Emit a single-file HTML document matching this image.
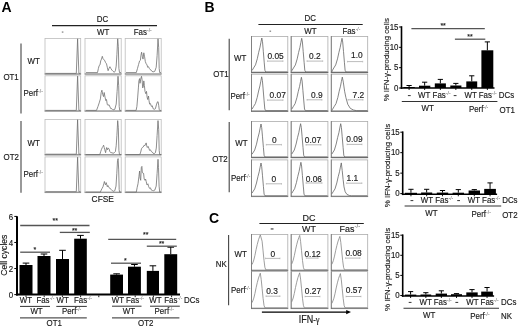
<!DOCTYPE html>
<html><head><meta charset="utf-8"><style>
html,body{margin:0;padding:0;background:#fff;}
svg{display:block;font-family:"Liberation Sans", sans-serif;will-change:transform;}
</style></head><body>
<svg width="520" height="329" viewBox="0 0 520 329">
<rect width="520" height="329" fill="#fff"/>
<text x="1.6" y="12.3" font-size="14" text-anchor="start" fill="#000" stroke="#000" stroke-width="0" font-weight="bold" >A</text>
<text x="204.5" y="11.9" font-size="14" text-anchor="start" fill="#000" stroke="#000" stroke-width="0" font-weight="bold" >B</text>
<text x="209.0" y="223.0" font-size="14" text-anchor="start" fill="#000" stroke="#000" stroke-width="0" font-weight="bold" >C</text>
<rect x="45.00" y="38.50" width="35.70" height="35.90" fill="#fff" stroke="#bcbcbc" stroke-width="0.8"/>
<line x1="44.60" y1="73.90" x2="81.10" y2="73.90" stroke="#787878" stroke-width="0.9"/>
<rect x="45.00" y="75.80" width="35.70" height="35.60" fill="#fff" stroke="#bcbcbc" stroke-width="0.8"/>
<line x1="44.60" y1="110.90" x2="81.10" y2="110.90" stroke="#787878" stroke-width="0.9"/>
<rect x="45.00" y="119.40" width="35.70" height="35.80" fill="#fff" stroke="#bcbcbc" stroke-width="0.8"/>
<line x1="44.60" y1="154.70" x2="81.10" y2="154.70" stroke="#787878" stroke-width="0.9"/>
<rect x="45.00" y="156.90" width="35.70" height="35.80" fill="#fff" stroke="#bcbcbc" stroke-width="0.8"/>
<line x1="44.60" y1="192.20" x2="81.10" y2="192.20" stroke="#787878" stroke-width="0.9"/>
<rect x="85.00" y="38.50" width="36.20" height="35.90" fill="#fff" stroke="#bcbcbc" stroke-width="0.8"/>
<line x1="84.60" y1="73.90" x2="121.60" y2="73.90" stroke="#787878" stroke-width="0.9"/>
<rect x="85.00" y="75.80" width="36.20" height="35.60" fill="#fff" stroke="#bcbcbc" stroke-width="0.8"/>
<line x1="84.60" y1="110.90" x2="121.60" y2="110.90" stroke="#787878" stroke-width="0.9"/>
<rect x="85.00" y="119.40" width="36.20" height="35.80" fill="#fff" stroke="#bcbcbc" stroke-width="0.8"/>
<line x1="84.60" y1="154.70" x2="121.60" y2="154.70" stroke="#787878" stroke-width="0.9"/>
<rect x="85.00" y="156.90" width="36.20" height="35.80" fill="#fff" stroke="#bcbcbc" stroke-width="0.8"/>
<line x1="84.60" y1="192.20" x2="121.60" y2="192.20" stroke="#787878" stroke-width="0.9"/>
<rect x="125.20" y="38.50" width="36.00" height="35.90" fill="#fff" stroke="#bcbcbc" stroke-width="0.8"/>
<line x1="124.80" y1="73.90" x2="161.60" y2="73.90" stroke="#787878" stroke-width="0.9"/>
<rect x="125.20" y="75.80" width="36.00" height="35.60" fill="#fff" stroke="#bcbcbc" stroke-width="0.8"/>
<line x1="124.80" y1="110.90" x2="161.60" y2="110.90" stroke="#787878" stroke-width="0.9"/>
<rect x="125.20" y="119.40" width="36.00" height="35.80" fill="#fff" stroke="#bcbcbc" stroke-width="0.8"/>
<line x1="124.80" y1="154.70" x2="161.60" y2="154.70" stroke="#787878" stroke-width="0.9"/>
<rect x="125.20" y="156.90" width="36.00" height="35.80" fill="#fff" stroke="#bcbcbc" stroke-width="0.8"/>
<line x1="124.80" y1="192.20" x2="161.60" y2="192.20" stroke="#787878" stroke-width="0.9"/>
<polyline points="45.50,73.40 76.30,73.40 77.60,38.80 78.90,73.40 80.30,73.40" fill="none" stroke="#707070" stroke-width="0.8" stroke-linejoin="round"/>
<polyline points="45.50,110.40 76.30,110.40 77.60,76.10 78.90,110.40 80.30,110.40" fill="none" stroke="#707070" stroke-width="0.8" stroke-linejoin="round"/>
<polyline points="45.50,154.20 76.30,154.20 77.60,119.70 78.90,154.20 80.30,154.20" fill="none" stroke="#707070" stroke-width="0.8" stroke-linejoin="round"/>
<polyline points="45.50,191.70 76.30,191.70 77.60,157.20 78.90,191.70 80.30,191.70" fill="none" stroke="#707070" stroke-width="0.8" stroke-linejoin="round"/>
<polyline points="86.00,72.60 97.50,72.60 98.40,68.40 99.20,65.50 100.00,64.90 100.70,60.90 101.50,59.10 102.30,56.30 103.00,58.60 103.80,59.70 104.60,60.30 105.60,62.60 106.50,63.80 107.30,67.30 108.10,70.70 109.00,68.40 109.90,66.70 110.80,68.40 111.90,70.10 113.10,71.30 114.30,72.30 115.40,70.70 116.20,66.10 116.90,54.50 117.70,38.80 118.30,46.40 118.90,68.40 119.50,72.60 121.00,72.60" fill="none" stroke="#707070" stroke-width="0.8" stroke-linejoin="round"/>
<polyline points="126.00,72.60 136.30,72.60 137.50,68.40 138.60,64.40 139.60,60.90 140.40,60.30 140.90,55.70 141.60,52.20 142.30,56.30 143.00,59.10 143.80,52.80 144.60,56.80 145.30,61.50 146.20,63.80 147.00,64.90 147.70,67.30 148.50,66.70 149.30,68.40 150.20,69.60 151.10,70.10 151.90,71.30 153.10,71.90 154.80,71.30 156.20,67.30 157.10,55.70 158.00,38.80 158.70,47.60 159.20,68.40 159.70,72.60 161.00,72.60" fill="none" stroke="#707070" stroke-width="0.8" stroke-linejoin="round"/>
<polyline points="86.00,110.40 96.50,110.40 98.00,106.40 99.20,102.90 100.40,98.90 101.20,92.50 101.90,90.20 102.70,94.30 103.50,96.60 104.20,92.50 105.00,97.10 105.80,100.60 106.50,99.50 107.30,104.70 108.10,105.30 109.00,104.70 110.00,107.00 110.80,108.70 111.90,108.70 113.10,109.90 114.80,109.30 116.20,104.10 117.10,91.40 118.00,76.30 118.70,85.60 119.20,106.40 119.70,110.40 121.00,110.40" fill="none" stroke="#707070" stroke-width="0.8" stroke-linejoin="round"/>
<polyline points="126.00,110.40 136.10,110.40 136.90,106.40 137.70,97.10 138.40,87.90 138.90,80.90 139.60,78.60 140.00,83.30 140.70,79.20 141.50,76.30 142.10,79.80 142.70,87.90 143.30,86.70 143.80,80.90 144.40,85.60 145.00,91.40 145.80,93.70 146.50,91.40 147.10,97.10 147.70,99.50 148.50,96.00 149.00,100.60 149.60,104.10 150.40,103.50 151.40,106.40 152.30,105.80 153.10,108.70 154.30,109.30 155.40,108.70 156.60,104.10 157.50,101.80 158.10,101.80 158.70,105.30 159.20,109.30 159.70,110.40 161.00,110.40" fill="none" stroke="#707070" stroke-width="0.8" stroke-linejoin="round"/>
<polyline points="86.00,154.60 99.80,154.60 100.70,151.60 101.50,149.30 102.30,147.50 103.00,146.40 103.60,145.20 104.20,147.50 104.80,149.80 105.60,152.70 106.20,149.30 106.70,147.50 107.30,149.80 108.10,148.10 109.00,148.70 109.90,151.60 110.80,152.70 111.90,152.70 113.10,153.30 114.30,152.70 115.40,151.60 116.20,145.80 116.90,135.40 117.70,120.60 118.30,127.30 118.90,150.40 119.50,154.60 121.00,154.60" fill="none" stroke="#707070" stroke-width="0.8" stroke-linejoin="round"/>
<polyline points="126.00,154.60 139.80,154.60 140.70,152.10 141.50,148.70 142.30,147.50 143.30,146.90 144.20,145.20 144.80,145.80 145.60,144.00 146.20,142.90 146.70,145.80 147.30,147.50 148.10,146.40 148.80,148.10 149.60,150.40 150.40,149.80 151.40,151.60 152.30,152.10 153.10,153.30 154.30,153.60 155.40,152.70 156.30,148.10 157.10,135.40 158.00,120.60 158.70,129.60 159.20,150.40 159.70,154.60 161.00,154.60" fill="none" stroke="#707070" stroke-width="0.8" stroke-linejoin="round"/>
<polyline points="86.00,192.10 100.40,192.10 101.20,190.10 102.10,188.40 103.00,186.70 103.80,183.80 104.40,181.50 105.00,183.80 105.60,184.90 106.20,182.60 106.70,184.40 107.30,186.70 107.90,185.50 108.70,187.30 109.60,187.80 110.40,189.00 111.40,189.60 112.30,190.70 113.40,191.30 114.80,190.70 116.00,186.10 116.80,173.40 117.50,160.60 118.10,158.60 118.70,169.90 119.20,189.60 119.70,192.10 121.00,192.10" fill="none" stroke="#707070" stroke-width="0.8" stroke-linejoin="round"/>
<polyline points="126.00,192.10 136.30,192.10 137.20,187.30 138.00,183.80 138.90,176.80 139.60,171.00 140.10,178.00 140.70,180.30 141.30,167.60 141.90,166.40 142.30,172.20 143.00,173.40 143.60,173.40 144.20,179.10 145.00,180.30 145.60,179.10 146.20,181.50 147.00,184.90 147.90,183.80 148.70,186.70 149.60,188.40 150.40,187.80 151.40,190.10 152.50,190.50 153.70,190.70 154.80,190.10 156.20,186.10 157.10,173.40 158.00,159.30 158.50,167.60 159.10,186.10 159.70,192.10 161.00,192.10" fill="none" stroke="#707070" stroke-width="0.8" stroke-linejoin="round"/>
<text transform="translate(96.80,22.10) scale(1,1.1)" font-size="7.9" text-anchor="start" fill="#1a1a1a" stroke="#1a1a1a" stroke-width="0.15" >DC</text>
<line x1="52.00" y1="25.60" x2="157.00" y2="25.60" stroke="#222" stroke-width="1.1"/>
<rect x="61.80" y="31.60" width="1.60" height="0.90" fill="#555" stroke="none" stroke-width="0"/>
<text transform="translate(97.00,34.70) scale(1,1.1)" font-size="7.9" text-anchor="start" fill="#1a1a1a" stroke="#1a1a1a" stroke-width="0.15" >WT</text>
<text transform="translate(133.70,34.70) scale(1,1.1)" font-size="7.9" text-anchor="start" fill="#1a1a1a" stroke="#1a1a1a" stroke-width="0.15" >Fas</text>
<text x="147.0" y="31.6" font-size="5.0" fill="#555">-/-</text>
<line x1="21.00" y1="43.40" x2="21.00" y2="113.60" stroke="#777" stroke-width="1.5"/>
<line x1="21.00" y1="121.00" x2="21.00" y2="192.80" stroke="#777" stroke-width="1.5"/>
<text transform="translate(27.60,63.80) scale(1,1.1)" font-size="7.9" text-anchor="start" fill="#1a1a1a" stroke="#1a1a1a" stroke-width="0.15" >WT</text>
<text transform="translate(23.50,95.80) scale(1,1.1)" font-size="7.9" text-anchor="start" fill="#1a1a1a" stroke="#1a1a1a" stroke-width="0.15" >Perf</text>
<text x="38.1" y="92.7" font-size="5.0" fill="#555">-/-</text>
<text transform="translate(3.40,79.90) scale(1,1.1)" font-size="7.9" text-anchor="start" fill="#1a1a1a" stroke="#1a1a1a" stroke-width="0.15" >OT1</text>
<text transform="translate(27.60,145.50) scale(1,1.1)" font-size="7.9" text-anchor="start" fill="#1a1a1a" stroke="#1a1a1a" stroke-width="0.15" >WT</text>
<text transform="translate(23.50,177.00) scale(1,1.1)" font-size="7.9" text-anchor="start" fill="#1a1a1a" stroke="#1a1a1a" stroke-width="0.15" >Perf</text>
<text x="38.1" y="173.9" font-size="5.0" fill="#555">-/-</text>
<text transform="translate(3.60,159.90) scale(1,1.1)" font-size="7.9" text-anchor="start" fill="#1a1a1a" stroke="#1a1a1a" stroke-width="0.15" >OT2</text>
<text transform="translate(91.60,201.60) scale(1,1.1)" font-size="8.4" text-anchor="start" fill="#1a1a1a" stroke="#1a1a1a" stroke-width="0.15" >CFSE</text>
<line x1="17.00" y1="216.20" x2="17.00" y2="295.60" stroke="#000" stroke-width="2.0"/>
<line x1="16.00" y1="294.60" x2="180.00" y2="294.60" stroke="#000" stroke-width="2.0"/>
<line x1="14.30" y1="216.42" x2="17.00" y2="216.42" stroke="#000" stroke-width="1.0"/>
<text transform="translate(13.10,219.62) scale(1,1.1)" font-size="7.9" text-anchor="end" fill="#1a1a1a" stroke="#1a1a1a" stroke-width="0.15" >6</text>
<line x1="14.30" y1="242.48" x2="17.00" y2="242.48" stroke="#000" stroke-width="1.0"/>
<text transform="translate(13.10,245.68) scale(1,1.1)" font-size="7.9" text-anchor="end" fill="#1a1a1a" stroke="#1a1a1a" stroke-width="0.15" >4</text>
<line x1="14.30" y1="268.54" x2="17.00" y2="268.54" stroke="#000" stroke-width="1.0"/>
<text transform="translate(13.10,271.74) scale(1,1.1)" font-size="7.9" text-anchor="end" fill="#1a1a1a" stroke="#1a1a1a" stroke-width="0.15" >2</text>
<line x1="14.30" y1="294.60" x2="17.00" y2="294.60" stroke="#000" stroke-width="1.0"/>
<text transform="translate(13.10,297.80) scale(1,1.1)" font-size="7.9" text-anchor="end" fill="#1a1a1a" stroke="#1a1a1a" stroke-width="0.15" >0</text>
<line x1="26.00" y1="295.50" x2="26.00" y2="297.20" stroke="#000" stroke-width="0.9"/>
<line x1="44.20" y1="295.50" x2="44.20" y2="297.20" stroke="#000" stroke-width="0.9"/>
<line x1="62.40" y1="295.50" x2="62.40" y2="297.20" stroke="#000" stroke-width="0.9"/>
<line x1="80.60" y1="295.50" x2="80.60" y2="297.20" stroke="#000" stroke-width="0.9"/>
<line x1="98.80" y1="295.50" x2="98.80" y2="297.20" stroke="#000" stroke-width="0.9"/>
<line x1="117.00" y1="295.50" x2="117.00" y2="297.20" stroke="#000" stroke-width="0.9"/>
<line x1="135.20" y1="295.50" x2="135.20" y2="297.20" stroke="#000" stroke-width="0.9"/>
<line x1="153.40" y1="295.50" x2="153.40" y2="297.20" stroke="#000" stroke-width="0.9"/>
<line x1="171.60" y1="295.50" x2="171.60" y2="297.20" stroke="#000" stroke-width="0.9"/>
<line x1="26.00" y1="263.10" x2="26.00" y2="265.00" stroke="#000" stroke-width="1.0"/>
<line x1="22.70" y1="263.10" x2="29.30" y2="263.10" stroke="#000" stroke-width="1.0"/>
<rect x="19.50" y="265.00" width="13.00" height="29.60" fill="#000" stroke="none" stroke-width="0"/>
<line x1="44.00" y1="254.00" x2="44.00" y2="256.00" stroke="#000" stroke-width="1.0"/>
<line x1="40.70" y1="254.00" x2="47.30" y2="254.00" stroke="#000" stroke-width="1.0"/>
<rect x="37.50" y="256.00" width="13.00" height="38.60" fill="#000" stroke="none" stroke-width="0"/>
<line x1="62.50" y1="250.30" x2="62.50" y2="259.00" stroke="#000" stroke-width="1.0"/>
<line x1="59.20" y1="250.30" x2="65.80" y2="250.30" stroke="#000" stroke-width="1.0"/>
<rect x="56.00" y="259.00" width="13.00" height="35.60" fill="#000" stroke="none" stroke-width="0"/>
<line x1="80.50" y1="235.40" x2="80.50" y2="238.70" stroke="#000" stroke-width="1.0"/>
<line x1="77.20" y1="235.40" x2="83.80" y2="235.40" stroke="#000" stroke-width="1.0"/>
<rect x="74.20" y="238.70" width="12.60" height="55.90" fill="#000" stroke="none" stroke-width="0"/>
<line x1="116.60" y1="273.80" x2="116.60" y2="274.60" stroke="#000" stroke-width="1.0"/>
<line x1="113.30" y1="273.80" x2="119.90" y2="273.80" stroke="#000" stroke-width="1.0"/>
<rect x="110.20" y="274.60" width="12.80" height="20.00" fill="#000" stroke="none" stroke-width="0"/>
<line x1="134.45" y1="264.50" x2="134.45" y2="266.70" stroke="#000" stroke-width="1.0"/>
<line x1="131.15" y1="264.50" x2="137.75" y2="264.50" stroke="#000" stroke-width="1.0"/>
<rect x="128.00" y="266.70" width="12.90" height="27.90" fill="#000" stroke="none" stroke-width="0"/>
<line x1="152.90" y1="265.80" x2="152.90" y2="270.90" stroke="#000" stroke-width="1.0"/>
<line x1="149.60" y1="265.80" x2="156.20" y2="265.80" stroke="#000" stroke-width="1.0"/>
<rect x="146.80" y="270.90" width="12.20" height="23.70" fill="#000" stroke="none" stroke-width="0"/>
<line x1="170.75" y1="247.20" x2="170.75" y2="254.20" stroke="#000" stroke-width="1.0"/>
<line x1="167.45" y1="247.20" x2="174.05" y2="247.20" stroke="#000" stroke-width="1.0"/>
<rect x="164.30" y="254.20" width="12.90" height="40.40" fill="#000" stroke="none" stroke-width="0"/>
<line x1="20.20" y1="225.50" x2="89.50" y2="225.50" stroke="#555" stroke-width="1.3"/>
<text transform="translate(55.20,223.20) scale(1,1.1)" font-size="7.0" text-anchor="middle" fill="#1a1a1a" stroke="#1a1a1a" stroke-width="0.15" >**</text>
<line x1="59.80" y1="232.40" x2="89.80" y2="232.40" stroke="#555" stroke-width="1.3"/>
<text transform="translate(74.60,232.50) scale(1,1.1)" font-size="7.0" text-anchor="middle" fill="#1a1a1a" stroke="#1a1a1a" stroke-width="0.15" >**</text>
<line x1="20.20" y1="252.20" x2="50.00" y2="252.20" stroke="#555" stroke-width="1.3"/>
<text transform="translate(34.80,252.20) scale(1,1.1)" font-size="7.0" text-anchor="middle" fill="#1a1a1a" stroke="#1a1a1a" stroke-width="0.15" >*</text>
<line x1="108.20" y1="239.40" x2="176.20" y2="239.40" stroke="#555" stroke-width="1.3"/>
<text transform="translate(145.70,237.10) scale(1,1.1)" font-size="7.0" text-anchor="middle" fill="#1a1a1a" stroke="#1a1a1a" stroke-width="0.15" >**</text>
<line x1="146.80" y1="246.20" x2="176.80" y2="246.20" stroke="#555" stroke-width="1.3"/>
<text transform="translate(161.60,246.30) scale(1,1.1)" font-size="7.0" text-anchor="middle" fill="#1a1a1a" stroke="#1a1a1a" stroke-width="0.15" >**</text>
<line x1="111.00" y1="263.20" x2="141.00" y2="263.20" stroke="#555" stroke-width="1.3"/>
<text transform="translate(125.40,263.00) scale(1,1.1)" font-size="7.0" text-anchor="middle" fill="#1a1a1a" stroke="#1a1a1a" stroke-width="0.15" >*</text>
<text transform="translate(19.80,303.30) scale(1,1.1)" font-size="7.9" text-anchor="start" fill="#1a1a1a" stroke="#1a1a1a" stroke-width="0.15" >WT</text>
<text transform="translate(36.40,303.30) scale(1,1.1)" font-size="7.9" text-anchor="start" fill="#1a1a1a" stroke="#1a1a1a" stroke-width="0.15" >Fas</text>
<text x="49.7" y="300.2" font-size="5.0" fill="#555">-/-</text>
<text transform="translate(56.60,303.30) scale(1,1.1)" font-size="7.9" text-anchor="start" fill="#1a1a1a" stroke="#1a1a1a" stroke-width="0.15" >WT</text>
<text transform="translate(74.00,303.30) scale(1,1.1)" font-size="7.9" text-anchor="start" fill="#1a1a1a" stroke="#1a1a1a" stroke-width="0.15" >Fas</text>
<text x="87.3" y="300.2" font-size="5.0" fill="#555">-/-</text>
<text transform="translate(111.80,303.30) scale(1,1.1)" font-size="7.9" text-anchor="start" fill="#1a1a1a" stroke="#1a1a1a" stroke-width="0.15" >WT</text>
<text transform="translate(126.00,303.30) scale(1,1.1)" font-size="7.9" text-anchor="start" fill="#1a1a1a" stroke="#1a1a1a" stroke-width="0.15" >Fas</text>
<text x="139.3" y="300.2" font-size="5.0" fill="#555">-/-</text>
<text transform="translate(149.30,303.30) scale(1,1.1)" font-size="7.9" text-anchor="start" fill="#1a1a1a" stroke="#1a1a1a" stroke-width="0.15" >WT</text>
<text transform="translate(164.30,303.30) scale(1,1.1)" font-size="7.9" text-anchor="start" fill="#1a1a1a" stroke="#1a1a1a" stroke-width="0.15" >Fas</text>
<text x="177.6" y="300.2" font-size="5.0" fill="#555">-/-</text>
<text transform="translate(184.00,302.90) scale(1,1.1)" font-size="7.9" text-anchor="start" fill="#1a1a1a" stroke="#1a1a1a" stroke-width="0.15" >DCs</text>
<line x1="20.00" y1="306.40" x2="50.00" y2="306.40" stroke="#333" stroke-width="1.0"/>
<line x1="56.30" y1="306.40" x2="86.80" y2="306.40" stroke="#333" stroke-width="1.0"/>
<line x1="112.00" y1="306.20" x2="141.50" y2="306.20" stroke="#333" stroke-width="1.0"/>
<line x1="150.00" y1="306.20" x2="179.80" y2="306.20" stroke="#333" stroke-width="1.0"/>
<text transform="translate(30.40,313.70) scale(1,1.1)" font-size="7.9" text-anchor="start" fill="#1a1a1a" stroke="#1a1a1a" stroke-width="0.15" >WT</text>
<text transform="translate(61.90,313.70) scale(1,1.1)" font-size="7.9" text-anchor="start" fill="#1a1a1a" stroke="#1a1a1a" stroke-width="0.15" >Perf</text>
<text x="76.5" y="310.6" font-size="5.0" fill="#555">-/-</text>
<text transform="translate(122.70,313.70) scale(1,1.1)" font-size="7.9" text-anchor="start" fill="#1a1a1a" stroke="#1a1a1a" stroke-width="0.15" >WT</text>
<text transform="translate(154.60,313.70) scale(1,1.1)" font-size="7.9" text-anchor="start" fill="#1a1a1a" stroke="#1a1a1a" stroke-width="0.15" >Perf</text>
<text x="169.2" y="310.6" font-size="5.0" fill="#555">-/-</text>
<line x1="20.00" y1="317.80" x2="86.80" y2="317.80" stroke="#555" stroke-width="1.3"/>
<line x1="112.00" y1="317.80" x2="179.40" y2="317.80" stroke="#555" stroke-width="1.3"/>
<text transform="translate(46.60,325.90) scale(1,1.1)" font-size="7.9" text-anchor="start" fill="#1a1a1a" stroke="#1a1a1a" stroke-width="0.15" >OT1</text>
<text transform="translate(138.00,325.90) scale(1,1.1)" font-size="7.9" text-anchor="start" fill="#1a1a1a" stroke="#1a1a1a" stroke-width="0.15" >OT2</text>
<text transform="translate(7.2,275.7) rotate(-90)" font-size="8.6" fill="#1a1a1a" stroke="#1a1a1a" stroke-width="0.15">Cell cycles</text>
<rect x="251.50" y="36.40" width="36.30" height="36.50" fill="#fff" stroke="#acacac" stroke-width="0.8"/>
<line x1="251.50" y1="36.00" x2="251.50" y2="72.90" stroke="#7a7a7a" stroke-width="0.9"/>
<line x1="251.10" y1="72.40" x2="288.20" y2="72.40" stroke="#6e6e6e" stroke-width="1.1"/>
<rect x="251.50" y="74.20" width="36.30" height="37.40" fill="#fff" stroke="#acacac" stroke-width="0.8"/>
<line x1="251.50" y1="73.80" x2="251.50" y2="111.60" stroke="#7a7a7a" stroke-width="0.9"/>
<line x1="251.10" y1="111.10" x2="288.20" y2="111.10" stroke="#6e6e6e" stroke-width="1.1"/>
<rect x="251.50" y="121.40" width="36.30" height="36.50" fill="#fff" stroke="#acacac" stroke-width="0.8"/>
<line x1="251.50" y1="121.00" x2="251.50" y2="157.90" stroke="#7a7a7a" stroke-width="0.9"/>
<line x1="251.10" y1="157.40" x2="288.20" y2="157.40" stroke="#6e6e6e" stroke-width="1.1"/>
<rect x="251.50" y="159.90" width="36.30" height="36.80" fill="#fff" stroke="#acacac" stroke-width="0.8"/>
<line x1="251.50" y1="159.50" x2="251.50" y2="196.70" stroke="#7a7a7a" stroke-width="0.9"/>
<line x1="251.10" y1="196.20" x2="288.20" y2="196.20" stroke="#6e6e6e" stroke-width="1.1"/>
<rect x="251.50" y="234.40" width="36.30" height="36.30" fill="#fff" stroke="#acacac" stroke-width="0.8"/>
<line x1="251.50" y1="234.00" x2="251.50" y2="270.70" stroke="#7a7a7a" stroke-width="0.9"/>
<line x1="251.10" y1="270.20" x2="288.20" y2="270.20" stroke="#6e6e6e" stroke-width="1.1"/>
<rect x="251.50" y="271.60" width="36.30" height="37.10" fill="#fff" stroke="#acacac" stroke-width="0.8"/>
<line x1="251.50" y1="271.20" x2="251.50" y2="308.70" stroke="#7a7a7a" stroke-width="0.9"/>
<line x1="251.10" y1="308.20" x2="288.20" y2="308.20" stroke="#6e6e6e" stroke-width="1.1"/>
<rect x="291.20" y="36.40" width="36.70" height="36.50" fill="#fff" stroke="#acacac" stroke-width="0.8"/>
<line x1="291.20" y1="36.00" x2="291.20" y2="72.90" stroke="#7a7a7a" stroke-width="0.9"/>
<line x1="290.80" y1="72.40" x2="328.30" y2="72.40" stroke="#6e6e6e" stroke-width="1.1"/>
<rect x="291.20" y="74.20" width="36.70" height="37.40" fill="#fff" stroke="#acacac" stroke-width="0.8"/>
<line x1="291.20" y1="73.80" x2="291.20" y2="111.60" stroke="#7a7a7a" stroke-width="0.9"/>
<line x1="290.80" y1="111.10" x2="328.30" y2="111.10" stroke="#6e6e6e" stroke-width="1.1"/>
<rect x="291.20" y="121.40" width="36.70" height="36.50" fill="#fff" stroke="#acacac" stroke-width="0.8"/>
<line x1="291.20" y1="121.00" x2="291.20" y2="157.90" stroke="#7a7a7a" stroke-width="0.9"/>
<line x1="290.80" y1="157.40" x2="328.30" y2="157.40" stroke="#6e6e6e" stroke-width="1.1"/>
<rect x="291.20" y="159.90" width="36.70" height="36.80" fill="#fff" stroke="#acacac" stroke-width="0.8"/>
<line x1="291.20" y1="159.50" x2="291.20" y2="196.70" stroke="#7a7a7a" stroke-width="0.9"/>
<line x1="290.80" y1="196.20" x2="328.30" y2="196.20" stroke="#6e6e6e" stroke-width="1.1"/>
<rect x="291.20" y="234.40" width="36.70" height="36.30" fill="#fff" stroke="#acacac" stroke-width="0.8"/>
<line x1="291.20" y1="234.00" x2="291.20" y2="270.70" stroke="#7a7a7a" stroke-width="0.9"/>
<line x1="290.80" y1="270.20" x2="328.30" y2="270.20" stroke="#6e6e6e" stroke-width="1.1"/>
<rect x="291.20" y="271.60" width="36.70" height="37.10" fill="#fff" stroke="#acacac" stroke-width="0.8"/>
<line x1="291.20" y1="271.20" x2="291.20" y2="308.70" stroke="#7a7a7a" stroke-width="0.9"/>
<line x1="290.80" y1="308.20" x2="328.30" y2="308.20" stroke="#6e6e6e" stroke-width="1.1"/>
<rect x="331.30" y="36.40" width="36.40" height="36.50" fill="#fff" stroke="#acacac" stroke-width="0.8"/>
<line x1="331.30" y1="36.00" x2="331.30" y2="72.90" stroke="#7a7a7a" stroke-width="0.9"/>
<line x1="330.90" y1="72.40" x2="368.10" y2="72.40" stroke="#6e6e6e" stroke-width="1.1"/>
<rect x="331.30" y="74.20" width="36.40" height="37.40" fill="#fff" stroke="#acacac" stroke-width="0.8"/>
<line x1="331.30" y1="73.80" x2="331.30" y2="111.60" stroke="#7a7a7a" stroke-width="0.9"/>
<line x1="330.90" y1="111.10" x2="368.10" y2="111.10" stroke="#6e6e6e" stroke-width="1.1"/>
<rect x="331.30" y="121.40" width="36.40" height="36.50" fill="#fff" stroke="#acacac" stroke-width="0.8"/>
<line x1="331.30" y1="121.00" x2="331.30" y2="157.90" stroke="#7a7a7a" stroke-width="0.9"/>
<line x1="330.90" y1="157.40" x2="368.10" y2="157.40" stroke="#6e6e6e" stroke-width="1.1"/>
<rect x="331.30" y="159.90" width="36.40" height="36.80" fill="#fff" stroke="#acacac" stroke-width="0.8"/>
<line x1="331.30" y1="159.50" x2="331.30" y2="196.70" stroke="#7a7a7a" stroke-width="0.9"/>
<line x1="330.90" y1="196.20" x2="368.10" y2="196.20" stroke="#6e6e6e" stroke-width="1.1"/>
<rect x="331.30" y="234.40" width="36.40" height="36.30" fill="#fff" stroke="#acacac" stroke-width="0.8"/>
<line x1="331.30" y1="234.00" x2="331.30" y2="270.70" stroke="#7a7a7a" stroke-width="0.9"/>
<line x1="330.90" y1="270.20" x2="368.10" y2="270.20" stroke="#6e6e6e" stroke-width="1.1"/>
<rect x="331.30" y="271.60" width="36.40" height="37.10" fill="#fff" stroke="#acacac" stroke-width="0.8"/>
<line x1="331.30" y1="271.20" x2="331.30" y2="308.70" stroke="#7a7a7a" stroke-width="0.9"/>
<line x1="330.90" y1="308.20" x2="368.10" y2="308.20" stroke="#6e6e6e" stroke-width="1.1"/>
<polyline points="252.10,70.47 253.60,67.92 255.50,64.86 257.30,58.74 258.70,52.28 260.00,47.18 260.90,42.42 261.80,38.00 262.50,41.74 263.30,51.26 264.20,62.14 264.90,70.30 265.80,72.00 287.30,72.00" fill="none" stroke="#666666" stroke-width="0.8" stroke-linejoin="round"/>
<polyline points="291.80,70.82 293.50,67.96 295.40,64.92 297.20,58.86 298.60,52.45 299.90,47.40 300.80,42.68 301.70,38.30 302.40,42.01 303.20,51.44 304.10,62.23 304.80,70.31 305.70,72.00 327.40,72.00" fill="none" stroke="#666666" stroke-width="0.8" stroke-linejoin="round"/>
<polyline points="331.90,72.00 332.00,70.99 333.80,67.96 335.70,64.92 337.50,58.86 338.90,52.45 340.20,47.40 341.10,42.68 342.00,38.30 342.70,42.01 343.50,51.44 344.40,62.23 345.10,70.31 346.00,72.00 367.20,72.00" fill="none" stroke="#666666" stroke-width="0.8" stroke-linejoin="round"/>
<polyline points="252.10,109.00 253.50,106.63 255.40,103.58 257.20,97.48 258.60,91.04 259.90,85.95 260.80,81.21 261.70,76.80 262.40,80.53 263.20,90.02 264.10,100.87 264.80,109.00 265.70,110.70 287.30,110.70" fill="none" stroke="#666666" stroke-width="0.8" stroke-linejoin="round"/>
<polyline points="291.80,109.03 293.20,106.69 295.10,103.69 296.90,97.67 298.30,91.33 299.60,86.32 300.50,81.64 301.40,77.30 302.10,80.97 302.90,90.33 303.80,101.01 304.50,109.03 305.40,110.70 327.40,110.70" fill="none" stroke="#666666" stroke-width="0.8" stroke-linejoin="round"/>
<polyline points="331.90,110.70 332.30,109.69 334.10,106.67 336.00,103.64 337.80,97.60 339.20,91.21 340.50,86.17 341.40,81.47 342.30,77.10 343.30,82.14 344.60,91.21 345.90,97.60 347.80,104.32 350.30,108.35 353.50,110.03 356.70,110.70 367.20,110.70" fill="none" stroke="#666666" stroke-width="0.8" stroke-linejoin="round"/>
<polyline points="252.10,154.20 252.80,153.04 254.70,150.07 256.50,144.13 257.90,137.86 259.20,132.91 260.10,128.29 261.00,124.00 261.70,127.63 262.50,136.87 263.40,147.43 264.10,155.35 265.00,157.00 287.30,157.00" fill="none" stroke="#666666" stroke-width="0.8" stroke-linejoin="round"/>
<polyline points="291.80,154.00 292.40,153.00 294.30,150.01 296.10,144.01 297.50,137.69 298.80,132.69 299.70,128.03 300.60,123.70 301.30,127.36 302.10,136.69 303.00,147.34 303.70,155.34 304.60,157.00 327.40,157.00" fill="none" stroke="#666666" stroke-width="0.8" stroke-linejoin="round"/>
<polyline points="331.90,154.00 332.50,153.00 334.40,150.01 336.20,144.01 337.60,137.69 338.90,132.69 339.80,128.03 340.70,123.70 341.40,127.36 342.20,136.69 343.10,147.34 343.80,155.34 344.70,157.00 367.20,157.00" fill="none" stroke="#666666" stroke-width="0.8" stroke-linejoin="round"/>
<polyline points="252.10,193.01 252.80,191.86 254.70,188.91 256.50,183.01 257.90,176.78 259.20,171.86 260.10,167.26 261.00,163.00 261.70,166.61 262.50,175.79 263.40,186.29 264.10,194.16 265.00,195.80 287.30,195.80" fill="none" stroke="#666666" stroke-width="0.8" stroke-linejoin="round"/>
<polyline points="291.80,193.29 292.70,191.78 294.60,188.76 296.40,182.73 297.80,176.37 299.10,171.34 300.00,166.66 300.90,162.30 301.60,165.99 302.40,175.37 303.30,186.08 304.00,194.12 304.90,195.80 327.40,195.80" fill="none" stroke="#666666" stroke-width="0.8" stroke-linejoin="round"/>
<polyline points="331.90,193.83 333.10,191.85 335.00,188.89 336.80,182.97 338.20,176.72 339.50,171.78 340.40,167.18 341.30,162.90 342.20,170.47 343.10,179.35 344.00,186.92 345.20,191.85 347.00,194.48 349.40,195.47 351.30,195.80 367.20,195.80" fill="none" stroke="#666666" stroke-width="0.8" stroke-linejoin="round"/>
<polyline points="252.10,264.53 252.80,262.82 253.80,260.03 254.90,255.49 256.10,249.56 257.30,244.32 258.50,239.79 259.50,236.99 260.30,234.90 262.10,241.18 263.00,250.26 264.00,260.38 264.90,267.36 265.80,269.80 287.30,269.80" fill="none" stroke="#858585" stroke-width="0.8" stroke-linejoin="round"/>
<polyline points="291.80,263.88 292.20,262.92 293.20,260.17 294.30,255.70 295.50,249.85 296.70,244.69 297.90,240.22 298.90,237.46 299.70,235.40 300.60,241.59 301.50,250.54 302.50,260.51 303.40,267.39 304.30,269.80 327.40,269.80" fill="none" stroke="#858585" stroke-width="0.8" stroke-linejoin="round"/>
<polyline points="331.90,264.29 332.40,263.12 333.40,260.45 334.50,256.11 335.70,250.43 336.90,245.42 338.10,241.08 339.10,238.40 339.90,236.40 340.80,242.41 341.70,251.10 342.70,260.78 343.60,267.46 344.50,269.80 367.20,269.80" fill="none" stroke="#858585" stroke-width="0.8" stroke-linejoin="round"/>
<polyline points="252.10,302.58 252.80,300.88 253.80,298.11 254.90,293.61 256.10,287.73 257.30,282.54 258.50,278.04 259.50,275.28 260.30,273.20 261.20,279.43 262.10,288.42 263.10,298.46 264.00,305.38 264.90,307.80 287.30,307.80" fill="none" stroke="#858585" stroke-width="0.8" stroke-linejoin="round"/>
<polyline points="291.80,301.78 292.20,300.80 293.20,298.00 294.30,293.45 295.50,287.50 296.70,282.25 297.90,277.70 298.90,274.90 299.70,272.80 300.60,279.10 301.50,288.20 302.50,298.35 303.40,305.35 304.30,307.80 327.40,307.80" fill="none" stroke="#858585" stroke-width="0.8" stroke-linejoin="round"/>
<polyline points="331.90,303.35 332.90,300.96 333.90,298.22 335.00,293.78 336.20,287.96 337.40,282.83 338.60,278.39 339.60,275.65 340.40,273.60 341.30,279.76 342.20,288.65 343.20,298.57 344.10,305.41 345.00,307.80 367.20,307.80" fill="none" stroke="#858585" stroke-width="0.8" stroke-linejoin="round"/>
<text transform="translate(267.40,58.60) scale(1,1.1)" font-size="8.4" text-anchor="start" fill="#222" stroke="#222" stroke-width="0.15" >0.05</text>
<line x1="267.50" y1="61.10" x2="283.00" y2="61.10" stroke="#aaaaaa" stroke-width="0.8"/>
<line x1="267.50" y1="60.30" x2="267.50" y2="61.90" stroke="#aaaaaa" stroke-width="0.6"/>
<line x1="283.00" y1="60.30" x2="283.00" y2="61.90" stroke="#aaaaaa" stroke-width="0.6"/>
<text transform="translate(309.00,58.60) scale(1,1.1)" font-size="8.4" text-anchor="start" fill="#222" stroke="#222" stroke-width="0.15" >0.2</text>
<line x1="307.00" y1="61.10" x2="322.70" y2="61.10" stroke="#aaaaaa" stroke-width="0.8"/>
<line x1="307.00" y1="60.30" x2="307.00" y2="61.90" stroke="#aaaaaa" stroke-width="0.6"/>
<line x1="322.70" y1="60.30" x2="322.70" y2="61.90" stroke="#aaaaaa" stroke-width="0.6"/>
<text transform="translate(351.00,58.20) scale(1,1.1)" font-size="8.4" text-anchor="start" fill="#222" stroke="#222" stroke-width="0.15" >1.0</text>
<line x1="347.50" y1="61.60" x2="362.70" y2="61.60" stroke="#aaaaaa" stroke-width="0.8"/>
<line x1="347.50" y1="60.80" x2="347.50" y2="62.40" stroke="#aaaaaa" stroke-width="0.6"/>
<line x1="362.70" y1="60.80" x2="362.70" y2="62.40" stroke="#aaaaaa" stroke-width="0.6"/>
<text transform="translate(269.50,97.70) scale(1,1.1)" font-size="8.4" text-anchor="start" fill="#222" stroke="#222" stroke-width="0.15" >0.07</text>
<line x1="267.50" y1="100.10" x2="283.00" y2="100.10" stroke="#aaaaaa" stroke-width="0.8"/>
<line x1="267.50" y1="99.30" x2="267.50" y2="100.90" stroke="#aaaaaa" stroke-width="0.6"/>
<line x1="283.00" y1="99.30" x2="283.00" y2="100.90" stroke="#aaaaaa" stroke-width="0.6"/>
<text transform="translate(311.00,97.70) scale(1,1.1)" font-size="8.4" text-anchor="start" fill="#222" stroke="#222" stroke-width="0.15" >0.9</text>
<line x1="307.00" y1="99.80" x2="322.00" y2="99.80" stroke="#aaaaaa" stroke-width="0.8"/>
<line x1="307.00" y1="99.00" x2="307.00" y2="100.60" stroke="#aaaaaa" stroke-width="0.6"/>
<line x1="322.00" y1="99.00" x2="322.00" y2="100.60" stroke="#aaaaaa" stroke-width="0.6"/>
<text transform="translate(352.50,97.70) scale(1,1.1)" font-size="8.4" text-anchor="start" fill="#222" stroke="#222" stroke-width="0.15" >7.2</text>
<line x1="348.00" y1="99.80" x2="363.00" y2="99.80" stroke="#aaaaaa" stroke-width="0.8"/>
<line x1="348.00" y1="99.00" x2="348.00" y2="100.60" stroke="#aaaaaa" stroke-width="0.6"/>
<line x1="363.00" y1="99.00" x2="363.00" y2="100.60" stroke="#aaaaaa" stroke-width="0.6"/>
<text transform="translate(271.90,142.70) scale(1,1.1)" font-size="8.4" text-anchor="start" fill="#222" stroke="#222" stroke-width="0.15" >0</text>
<line x1="266.30" y1="144.70" x2="281.50" y2="144.70" stroke="#aaaaaa" stroke-width="0.8"/>
<line x1="266.30" y1="143.90" x2="266.30" y2="145.50" stroke="#aaaaaa" stroke-width="0.6"/>
<line x1="281.50" y1="143.90" x2="281.50" y2="145.50" stroke="#aaaaaa" stroke-width="0.6"/>
<text transform="translate(304.80,143.00) scale(1,1.1)" font-size="8.4" text-anchor="start" fill="#222" stroke="#222" stroke-width="0.15" >0.07</text>
<line x1="306.00" y1="144.80" x2="321.00" y2="144.80" stroke="#aaaaaa" stroke-width="0.8"/>
<line x1="306.00" y1="144.00" x2="306.00" y2="145.60" stroke="#aaaaaa" stroke-width="0.6"/>
<line x1="321.00" y1="144.00" x2="321.00" y2="145.60" stroke="#aaaaaa" stroke-width="0.6"/>
<text transform="translate(346.30,141.80) scale(1,1.1)" font-size="8.4" text-anchor="start" fill="#222" stroke="#222" stroke-width="0.15" >0.09</text>
<line x1="347.00" y1="144.40" x2="362.00" y2="144.40" stroke="#aaaaaa" stroke-width="0.8"/>
<line x1="347.00" y1="143.60" x2="347.00" y2="145.20" stroke="#aaaaaa" stroke-width="0.6"/>
<line x1="362.00" y1="143.60" x2="362.00" y2="145.20" stroke="#aaaaaa" stroke-width="0.6"/>
<text transform="translate(271.50,181.90) scale(1,1.1)" font-size="8.4" text-anchor="start" fill="#222" stroke="#222" stroke-width="0.15" >0</text>
<line x1="266.30" y1="183.80" x2="281.50" y2="183.80" stroke="#aaaaaa" stroke-width="0.8"/>
<line x1="266.30" y1="183.00" x2="266.30" y2="184.60" stroke="#aaaaaa" stroke-width="0.6"/>
<line x1="281.50" y1="183.00" x2="281.50" y2="184.60" stroke="#aaaaaa" stroke-width="0.6"/>
<text transform="translate(305.70,181.80) scale(1,1.1)" font-size="8.4" text-anchor="start" fill="#222" stroke="#222" stroke-width="0.15" >0.06</text>
<line x1="306.00" y1="183.00" x2="322.00" y2="183.00" stroke="#aaaaaa" stroke-width="0.8"/>
<line x1="306.00" y1="182.20" x2="306.00" y2="183.80" stroke="#aaaaaa" stroke-width="0.6"/>
<line x1="322.00" y1="182.20" x2="322.00" y2="183.80" stroke="#aaaaaa" stroke-width="0.6"/>
<text transform="translate(346.50,180.60) scale(1,1.1)" font-size="8.4" text-anchor="start" fill="#222" stroke="#222" stroke-width="0.15" >1.1</text>
<line x1="346.60" y1="183.20" x2="361.90" y2="183.20" stroke="#aaaaaa" stroke-width="0.8"/>
<line x1="346.60" y1="182.40" x2="346.60" y2="184.00" stroke="#aaaaaa" stroke-width="0.6"/>
<line x1="361.90" y1="182.40" x2="361.90" y2="184.00" stroke="#aaaaaa" stroke-width="0.6"/>
<text transform="translate(270.40,257.00) scale(1,1.1)" font-size="8.4" text-anchor="start" fill="#222" stroke="#222" stroke-width="0.15" >0</text>
<line x1="265.50" y1="258.40" x2="280.00" y2="258.40" stroke="#aaaaaa" stroke-width="0.8"/>
<line x1="265.50" y1="257.60" x2="265.50" y2="259.20" stroke="#aaaaaa" stroke-width="0.6"/>
<line x1="280.00" y1="257.60" x2="280.00" y2="259.20" stroke="#aaaaaa" stroke-width="0.6"/>
<text transform="translate(304.40,257.00) scale(1,1.1)" font-size="8.4" text-anchor="start" fill="#222" stroke="#222" stroke-width="0.15" >0.12</text>
<line x1="306.30" y1="258.10" x2="318.10" y2="258.10" stroke="#aaaaaa" stroke-width="0.8"/>
<line x1="306.30" y1="257.30" x2="306.30" y2="258.90" stroke="#aaaaaa" stroke-width="0.6"/>
<line x1="318.10" y1="257.30" x2="318.10" y2="258.90" stroke="#aaaaaa" stroke-width="0.6"/>
<text transform="translate(345.40,255.50) scale(1,1.1)" font-size="8.4" text-anchor="start" fill="#222" stroke="#222" stroke-width="0.15" >0.08</text>
<line x1="345.50" y1="258.10" x2="360.00" y2="258.10" stroke="#aaaaaa" stroke-width="0.8"/>
<line x1="345.50" y1="257.30" x2="345.50" y2="258.90" stroke="#aaaaaa" stroke-width="0.6"/>
<line x1="360.00" y1="257.30" x2="360.00" y2="258.90" stroke="#aaaaaa" stroke-width="0.6"/>
<text transform="translate(266.20,293.90) scale(1,1.1)" font-size="8.4" text-anchor="start" fill="#222" stroke="#222" stroke-width="0.15" >0.3</text>
<line x1="266.00" y1="296.20" x2="280.00" y2="296.20" stroke="#aaaaaa" stroke-width="0.8"/>
<line x1="266.00" y1="295.40" x2="266.00" y2="297.00" stroke="#aaaaaa" stroke-width="0.6"/>
<line x1="280.00" y1="295.40" x2="280.00" y2="297.00" stroke="#aaaaaa" stroke-width="0.6"/>
<text transform="translate(304.80,294.10) scale(1,1.1)" font-size="8.4" text-anchor="start" fill="#222" stroke="#222" stroke-width="0.15" >0.27</text>
<line x1="305.00" y1="296.50" x2="320.00" y2="296.50" stroke="#aaaaaa" stroke-width="0.8"/>
<line x1="305.00" y1="295.70" x2="305.00" y2="297.30" stroke="#aaaaaa" stroke-width="0.6"/>
<line x1="320.00" y1="295.70" x2="320.00" y2="297.30" stroke="#aaaaaa" stroke-width="0.6"/>
<text transform="translate(345.80,292.70) scale(1,1.1)" font-size="8.4" text-anchor="start" fill="#222" stroke="#222" stroke-width="0.15" >0.57</text>
<line x1="346.00" y1="296.50" x2="361.00" y2="296.50" stroke="#aaaaaa" stroke-width="0.8"/>
<line x1="346.00" y1="295.70" x2="346.00" y2="297.30" stroke="#aaaaaa" stroke-width="0.6"/>
<line x1="361.00" y1="295.70" x2="361.00" y2="297.30" stroke="#aaaaaa" stroke-width="0.6"/>
<text transform="translate(304.50,21.10) scale(1,1.1)" font-size="7.9" text-anchor="start" fill="#1a1a1a" stroke="#1a1a1a" stroke-width="0.15" >DC</text>
<line x1="258.40" y1="24.50" x2="362.70" y2="24.50" stroke="#222" stroke-width="1.1"/>
<rect x="269.50" y="30.70" width="1.60" height="0.90" fill="#555" stroke="none" stroke-width="0"/>
<text transform="translate(304.20,33.90) scale(1,1.1)" font-size="7.9" text-anchor="start" fill="#1a1a1a" stroke="#1a1a1a" stroke-width="0.15" >WT</text>
<text transform="translate(342.40,33.90) scale(1,1.1)" font-size="7.9" text-anchor="start" fill="#1a1a1a" stroke="#1a1a1a" stroke-width="0.15" >Fas</text>
<text x="355.7" y="30.8" font-size="5.0" fill="#555">-/-</text>
<text x="302.5" y="221.0" font-size="9.0" text-anchor="start" fill="#1a1a1a" stroke="#1a1a1a" stroke-width="0.15" font-weight="normal" >DC</text>
<line x1="259.40" y1="223.50" x2="363.80" y2="223.50" stroke="#222" stroke-width="1.1"/>
<rect x="270.70" y="228.40" width="2.80" height="1.10" fill="#333" stroke="none" stroke-width="0"/>
<text x="302.0" y="232.1" font-size="8.9" text-anchor="start" fill="#1a1a1a" stroke="#1a1a1a" stroke-width="0.15" font-weight="normal" >WT</text>
<text x="339.6" y="232.1" font-size="8.9" text-anchor="start" fill="#1a1a1a" stroke="#1a1a1a" stroke-width="0.15" font-weight="normal" >Fas</text>
<text x="354.6" y="228.4" font-size="5.8" fill="#555">-/-</text>
<line x1="229.20" y1="38.80" x2="229.20" y2="110.30" stroke="#444" stroke-width="1.1"/>
<line x1="229.20" y1="122.00" x2="229.20" y2="192.30" stroke="#444" stroke-width="1.1"/>
<line x1="228.60" y1="234.90" x2="228.60" y2="305.20" stroke="#444" stroke-width="1.1"/>
<text transform="translate(234.10,61.10) scale(1,1.1)" font-size="7.9" text-anchor="start" fill="#1a1a1a" stroke="#1a1a1a" stroke-width="0.15" >WT</text>
<text transform="translate(213.30,76.80) scale(1,1.1)" font-size="7.9" text-anchor="start" fill="#1a1a1a" stroke="#1a1a1a" stroke-width="0.15" >OT1</text>
<text transform="translate(230.40,99.00) scale(1,1.1)" font-size="7.9" text-anchor="start" fill="#1a1a1a" stroke="#1a1a1a" stroke-width="0.15" >Perf</text>
<text x="245.0" y="95.9" font-size="5.0" fill="#555">-/-</text>
<text transform="translate(235.20,145.50) scale(1,1.1)" font-size="7.9" text-anchor="start" fill="#1a1a1a" stroke="#1a1a1a" stroke-width="0.15" >WT</text>
<text transform="translate(212.30,161.80) scale(1,1.1)" font-size="7.9" text-anchor="start" fill="#1a1a1a" stroke="#1a1a1a" stroke-width="0.15" >OT2</text>
<text transform="translate(231.10,181.20) scale(1,1.1)" font-size="7.9" text-anchor="start" fill="#1a1a1a" stroke="#1a1a1a" stroke-width="0.15" >Perf</text>
<text x="245.7" y="178.1" font-size="5.0" fill="#555">-/-</text>
<text transform="translate(234.50,257.20) scale(1,1.1)" font-size="7.9" text-anchor="start" fill="#1a1a1a" stroke="#1a1a1a" stroke-width="0.15" >WT</text>
<text transform="translate(215.80,266.90) scale(1,1.1)" font-size="7.9" text-anchor="start" fill="#1a1a1a" stroke="#1a1a1a" stroke-width="0.15" >NK</text>
<text transform="translate(231.10,292.60) scale(1,1.1)" font-size="7.9" text-anchor="start" fill="#1a1a1a" stroke="#1a1a1a" stroke-width="0.15" >Perf</text>
<text x="245.7" y="289.5" font-size="5.0" fill="#555">-/-</text>
<line x1="261.90" y1="312.10" x2="347.50" y2="312.10" stroke="#000" stroke-width="1.1"/>
<polygon points="346.2,310.0 351.0,312.1 346.2,314.2" fill="#000"/>
<text transform="translate(298.7,322.6) scale(1,1.12)" font-size="9.0" fill="#1a1a1a" stroke="#1a1a1a" stroke-width="0.15">IFN<tspan font-size="7.5">-</tspan><tspan font-size="8.5" font-family="Liberation Serif">γ</tspan></text>
<line x1="401.50" y1="26.20" x2="401.50" y2="88.80" stroke="#000" stroke-width="1.6"/>
<line x1="400.70" y1="88.00" x2="494.50" y2="88.00" stroke="#000" stroke-width="1.5"/>
<line x1="399.10" y1="27.00" x2="401.50" y2="27.00" stroke="#000" stroke-width="1.0"/>
<text transform="translate(398.50,29.70) scale(1,1.1)" font-size="7.9" text-anchor="end" fill="#1a1a1a" stroke="#1a1a1a" stroke-width="0.15" >15</text>
<line x1="399.10" y1="47.33" x2="401.50" y2="47.33" stroke="#000" stroke-width="1.0"/>
<text transform="translate(398.50,50.03) scale(1,1.1)" font-size="7.9" text-anchor="end" fill="#1a1a1a" stroke="#1a1a1a" stroke-width="0.15" >10</text>
<line x1="399.10" y1="67.67" x2="401.50" y2="67.67" stroke="#000" stroke-width="1.0"/>
<text transform="translate(398.50,70.37) scale(1,1.1)" font-size="7.9" text-anchor="end" fill="#1a1a1a" stroke="#1a1a1a" stroke-width="0.15" >5</text>
<line x1="399.10" y1="88.00" x2="401.50" y2="88.00" stroke="#000" stroke-width="1.0"/>
<text transform="translate(398.50,90.70) scale(1,1.1)" font-size="7.9" text-anchor="end" fill="#1a1a1a" stroke="#1a1a1a" stroke-width="0.15" >0</text>
<line x1="409.10" y1="85.50" x2="409.10" y2="87.00" stroke="#000" stroke-width="1.0"/>
<line x1="406.50" y1="85.50" x2="411.70" y2="85.50" stroke="#000" stroke-width="1.0"/>
<rect x="403.40" y="87.00" width="11.40" height="1.00" fill="#000" stroke="none" stroke-width="0"/>
<line x1="409.10" y1="88.00" x2="409.10" y2="90.00" stroke="#000" stroke-width="0.9"/>
<line x1="424.65" y1="82.20" x2="424.65" y2="85.70" stroke="#000" stroke-width="1.0"/>
<line x1="422.05" y1="82.20" x2="427.25" y2="82.20" stroke="#000" stroke-width="1.0"/>
<rect x="419.00" y="85.70" width="11.30" height="2.30" fill="#000" stroke="none" stroke-width="0"/>
<line x1="424.65" y1="88.00" x2="424.65" y2="90.00" stroke="#000" stroke-width="0.9"/>
<line x1="440.35" y1="79.40" x2="440.35" y2="83.40" stroke="#000" stroke-width="1.0"/>
<line x1="437.75" y1="79.40" x2="442.95" y2="79.40" stroke="#000" stroke-width="1.0"/>
<rect x="434.80" y="83.40" width="11.10" height="4.60" fill="#000" stroke="none" stroke-width="0"/>
<line x1="440.35" y1="88.00" x2="440.35" y2="90.00" stroke="#000" stroke-width="0.9"/>
<line x1="455.85" y1="83.40" x2="455.85" y2="85.50" stroke="#000" stroke-width="1.0"/>
<line x1="453.25" y1="83.40" x2="458.45" y2="83.40" stroke="#000" stroke-width="1.0"/>
<rect x="450.30" y="85.50" width="11.10" height="2.50" fill="#000" stroke="none" stroke-width="0"/>
<line x1="455.85" y1="88.00" x2="455.85" y2="90.00" stroke="#000" stroke-width="0.9"/>
<line x1="471.75" y1="75.80" x2="471.75" y2="81.40" stroke="#000" stroke-width="1.0"/>
<line x1="469.15" y1="75.80" x2="474.35" y2="75.80" stroke="#000" stroke-width="1.0"/>
<rect x="466.30" y="81.40" width="10.90" height="6.60" fill="#000" stroke="none" stroke-width="0"/>
<line x1="471.75" y1="88.00" x2="471.75" y2="90.00" stroke="#000" stroke-width="0.9"/>
<line x1="487.35" y1="41.90" x2="487.35" y2="50.30" stroke="#000" stroke-width="1.0"/>
<line x1="484.75" y1="41.90" x2="489.95" y2="41.90" stroke="#000" stroke-width="1.0"/>
<rect x="481.40" y="50.30" width="11.90" height="37.70" fill="#000" stroke="none" stroke-width="0"/>
<line x1="487.35" y1="88.00" x2="487.35" y2="90.00" stroke="#000" stroke-width="0.9"/>
<rect x="407.90" y="95.10" width="2.80" height="1.00" fill="#333" stroke="none" stroke-width="0"/>
<rect x="453.70" y="95.10" width="2.80" height="1.00" fill="#333" stroke="none" stroke-width="0"/>
<text transform="translate(418.00,98.00) scale(1,1.1)" font-size="7.9" text-anchor="start" fill="#1a1a1a" stroke="#1a1a1a" stroke-width="0.15" >WT</text>
<text transform="translate(464.60,98.00) scale(1,1.1)" font-size="7.9" text-anchor="start" fill="#1a1a1a" stroke="#1a1a1a" stroke-width="0.15" >WT</text>
<text transform="translate(432.60,98.00) scale(1,1.1)" font-size="7.9" text-anchor="start" fill="#1a1a1a" stroke="#1a1a1a" stroke-width="0.15" >Fas</text>
<text x="445.9" y="94.9" font-size="5.0" fill="#555">-/-</text>
<text transform="translate(478.70,98.00) scale(1,1.1)" font-size="7.9" text-anchor="start" fill="#1a1a1a" stroke="#1a1a1a" stroke-width="0.15" >Fas</text>
<text x="492.0" y="94.9" font-size="5.0" fill="#555">-/-</text>
<text transform="translate(498.80,98.00) scale(1,1.1)" font-size="7.9" text-anchor="start" fill="#1a1a1a" stroke="#1a1a1a" stroke-width="0.15" >DCs</text>
<line x1="401.80" y1="101.50" x2="497.40" y2="101.50" stroke="#333" stroke-width="1.1"/>
<text transform="translate(421.50,111.10) scale(1,1.1)" font-size="7.9" text-anchor="start" fill="#1a1a1a" stroke="#1a1a1a" stroke-width="0.15" >WT</text>
<text transform="translate(468.90,111.80) scale(1,1.1)" font-size="7.9" text-anchor="start" fill="#1a1a1a" stroke="#1a1a1a" stroke-width="0.15" >Perf</text>
<text x="483.5" y="108.7" font-size="5.0" fill="#555">-/-</text>
<text transform="translate(499.50,112.70) scale(1,1.1)" font-size="7.9" text-anchor="start" fill="#1a1a1a" stroke="#1a1a1a" stroke-width="0.15" >OT1</text>
<line x1="411.40" y1="28.70" x2="484.80" y2="28.70" stroke="#555" stroke-width="1.3"/>
<text transform="translate(443.10,28.30) scale(1,1.1)" font-size="7.0" text-anchor="middle" fill="#1a1a1a" stroke="#1a1a1a" stroke-width="0.15" >**</text>
<line x1="454.90" y1="39.20" x2="485.30" y2="39.20" stroke="#555" stroke-width="1.3"/>
<text transform="translate(470.00,39.40) scale(1,1.1)" font-size="7.0" text-anchor="middle" fill="#1a1a1a" stroke="#1a1a1a" stroke-width="0.15" >**</text>
<text transform="translate(388.6,101.3) rotate(-90)" font-size="7.85" fill="#1a1a1a" stroke="#1a1a1a" stroke-width="0.15">% IFN-γ-producing cells</text>
<line x1="402.70" y1="131.40" x2="402.70" y2="195.10" stroke="#000" stroke-width="1.6"/>
<line x1="401.90" y1="194.30" x2="497.10" y2="194.30" stroke="#000" stroke-width="1.5"/>
<line x1="400.30" y1="132.20" x2="402.70" y2="132.20" stroke="#000" stroke-width="1.0"/>
<text transform="translate(399.70,134.90) scale(1,1.1)" font-size="7.9" text-anchor="end" fill="#1a1a1a" stroke="#1a1a1a" stroke-width="0.15" >15</text>
<line x1="400.30" y1="152.67" x2="402.70" y2="152.67" stroke="#000" stroke-width="1.0"/>
<text transform="translate(399.70,155.37) scale(1,1.1)" font-size="7.9" text-anchor="end" fill="#1a1a1a" stroke="#1a1a1a" stroke-width="0.15" >10</text>
<line x1="400.30" y1="173.13" x2="402.70" y2="173.13" stroke="#000" stroke-width="1.0"/>
<text transform="translate(399.70,175.83) scale(1,1.1)" font-size="7.9" text-anchor="end" fill="#1a1a1a" stroke="#1a1a1a" stroke-width="0.15" >5</text>
<line x1="400.30" y1="193.60" x2="402.70" y2="193.60" stroke="#000" stroke-width="1.0"/>
<text transform="translate(399.70,196.30) scale(1,1.1)" font-size="7.9" text-anchor="end" fill="#1a1a1a" stroke="#1a1a1a" stroke-width="0.15" >0</text>
<line x1="410.95" y1="189.30" x2="410.95" y2="192.80" stroke="#000" stroke-width="1.0"/>
<line x1="408.35" y1="189.30" x2="413.55" y2="189.30" stroke="#000" stroke-width="1.0"/>
<rect x="404.90" y="192.80" width="12.10" height="1.50" fill="#000" stroke="none" stroke-width="0"/>
<line x1="410.95" y1="194.30" x2="410.95" y2="196.30" stroke="#000" stroke-width="0.9"/>
<line x1="426.65" y1="189.30" x2="426.65" y2="192.50" stroke="#000" stroke-width="1.0"/>
<line x1="424.05" y1="189.30" x2="429.25" y2="189.30" stroke="#000" stroke-width="1.0"/>
<rect x="421.10" y="192.50" width="11.10" height="1.80" fill="#000" stroke="none" stroke-width="0"/>
<line x1="426.65" y1="194.30" x2="426.65" y2="196.30" stroke="#000" stroke-width="0.9"/>
<line x1="442.50" y1="190.50" x2="442.50" y2="192.60" stroke="#000" stroke-width="1.0"/>
<line x1="439.90" y1="190.50" x2="445.10" y2="190.50" stroke="#000" stroke-width="1.0"/>
<rect x="436.80" y="192.60" width="11.40" height="1.70" fill="#000" stroke="none" stroke-width="0"/>
<line x1="442.50" y1="194.30" x2="442.50" y2="196.30" stroke="#000" stroke-width="0.9"/>
<line x1="458.30" y1="189.60" x2="458.30" y2="192.70" stroke="#000" stroke-width="1.0"/>
<line x1="455.70" y1="189.60" x2="460.90" y2="189.60" stroke="#000" stroke-width="1.0"/>
<rect x="452.60" y="192.70" width="11.40" height="1.60" fill="#000" stroke="none" stroke-width="0"/>
<line x1="458.30" y1="194.30" x2="458.30" y2="196.30" stroke="#000" stroke-width="0.9"/>
<line x1="474.30" y1="189.60" x2="474.30" y2="190.50" stroke="#000" stroke-width="1.0"/>
<line x1="471.70" y1="189.60" x2="476.90" y2="189.60" stroke="#000" stroke-width="1.0"/>
<rect x="468.60" y="190.50" width="11.40" height="3.80" fill="#000" stroke="none" stroke-width="0"/>
<line x1="474.30" y1="194.30" x2="474.30" y2="196.30" stroke="#000" stroke-width="0.9"/>
<line x1="490.05" y1="182.90" x2="490.05" y2="188.90" stroke="#000" stroke-width="1.0"/>
<line x1="487.45" y1="182.90" x2="492.65" y2="182.90" stroke="#000" stroke-width="1.0"/>
<rect x="484.20" y="188.90" width="11.70" height="5.40" fill="#000" stroke="none" stroke-width="0"/>
<line x1="490.05" y1="194.30" x2="490.05" y2="196.30" stroke="#000" stroke-width="0.9"/>
<rect x="410.50" y="200.10" width="2.80" height="1.00" fill="#333" stroke="none" stroke-width="0"/>
<rect x="457.20" y="200.10" width="2.80" height="1.00" fill="#333" stroke="none" stroke-width="0"/>
<text transform="translate(420.70,203.00) scale(1,1.1)" font-size="7.9" text-anchor="start" fill="#1a1a1a" stroke="#1a1a1a" stroke-width="0.15" >WT</text>
<text transform="translate(467.70,203.00) scale(1,1.1)" font-size="7.9" text-anchor="start" fill="#1a1a1a" stroke="#1a1a1a" stroke-width="0.15" >WT</text>
<text transform="translate(435.20,203.00) scale(1,1.1)" font-size="7.9" text-anchor="start" fill="#1a1a1a" stroke="#1a1a1a" stroke-width="0.15" >Fas</text>
<text x="448.5" y="199.9" font-size="5.0" fill="#555">-/-</text>
<text transform="translate(482.10,203.00) scale(1,1.1)" font-size="7.9" text-anchor="start" fill="#1a1a1a" stroke="#1a1a1a" stroke-width="0.15" >Fas</text>
<text x="495.4" y="199.9" font-size="5.0" fill="#555">-/-</text>
<text transform="translate(502.20,203.00) scale(1,1.1)" font-size="7.9" text-anchor="start" fill="#1a1a1a" stroke="#1a1a1a" stroke-width="0.15" >DCs</text>
<line x1="404.60" y1="206.00" x2="501.20" y2="206.00" stroke="#333" stroke-width="1.1"/>
<text transform="translate(425.30,216.30) scale(1,1.1)" font-size="7.9" text-anchor="start" fill="#1a1a1a" stroke="#1a1a1a" stroke-width="0.15" >WT</text>
<text transform="translate(471.50,217.40) scale(1,1.1)" font-size="7.9" text-anchor="start" fill="#1a1a1a" stroke="#1a1a1a" stroke-width="0.15" >Perf</text>
<text x="486.1" y="214.3" font-size="5.0" fill="#555">-/-</text>
<text transform="translate(502.20,217.60) scale(1,1.1)" font-size="7.9" text-anchor="start" fill="#1a1a1a" stroke="#1a1a1a" stroke-width="0.15" >OT2</text>
<text transform="translate(389.6,207.2) rotate(-90)" font-size="7.85" fill="#1a1a1a" stroke="#1a1a1a" stroke-width="0.15">% IFN-γ-producing cells</text>
<line x1="402.70" y1="234.40" x2="402.70" y2="296.80" stroke="#000" stroke-width="1.6"/>
<line x1="401.90" y1="296.00" x2="494.10" y2="296.00" stroke="#000" stroke-width="1.5"/>
<line x1="400.30" y1="235.20" x2="402.70" y2="235.20" stroke="#000" stroke-width="1.0"/>
<text transform="translate(399.70,237.90) scale(1,1.1)" font-size="7.9" text-anchor="end" fill="#1a1a1a" stroke="#1a1a1a" stroke-width="0.15" >15</text>
<line x1="400.30" y1="255.30" x2="402.70" y2="255.30" stroke="#000" stroke-width="1.0"/>
<text transform="translate(399.70,258.00) scale(1,1.1)" font-size="7.9" text-anchor="end" fill="#1a1a1a" stroke="#1a1a1a" stroke-width="0.15" >10</text>
<line x1="400.30" y1="275.40" x2="402.70" y2="275.40" stroke="#000" stroke-width="1.0"/>
<text transform="translate(399.70,278.10) scale(1,1.1)" font-size="7.9" text-anchor="end" fill="#1a1a1a" stroke="#1a1a1a" stroke-width="0.15" >5</text>
<line x1="400.30" y1="295.50" x2="402.70" y2="295.50" stroke="#000" stroke-width="1.0"/>
<text transform="translate(399.70,298.20) scale(1,1.1)" font-size="7.9" text-anchor="end" fill="#1a1a1a" stroke="#1a1a1a" stroke-width="0.15" >0</text>
<line x1="410.60" y1="291.60" x2="410.60" y2="294.60" stroke="#000" stroke-width="1.0"/>
<line x1="408.00" y1="291.60" x2="413.20" y2="291.60" stroke="#000" stroke-width="1.0"/>
<rect x="404.90" y="294.60" width="11.40" height="1.40" fill="#000" stroke="none" stroke-width="0"/>
<line x1="410.60" y1="296.00" x2="410.60" y2="298.00" stroke="#000" stroke-width="0.9"/>
<line x1="425.85" y1="292.70" x2="425.85" y2="294.50" stroke="#000" stroke-width="1.0"/>
<line x1="423.25" y1="292.70" x2="428.45" y2="292.70" stroke="#000" stroke-width="1.0"/>
<rect x="420.50" y="294.50" width="10.70" height="1.50" fill="#000" stroke="none" stroke-width="0"/>
<line x1="425.85" y1="296.00" x2="425.85" y2="298.00" stroke="#000" stroke-width="0.9"/>
<line x1="441.35" y1="290.80" x2="441.35" y2="293.60" stroke="#000" stroke-width="1.0"/>
<line x1="438.75" y1="290.80" x2="443.95" y2="290.80" stroke="#000" stroke-width="1.0"/>
<rect x="435.70" y="293.60" width="11.30" height="2.40" fill="#000" stroke="none" stroke-width="0"/>
<line x1="441.35" y1="296.00" x2="441.35" y2="298.00" stroke="#000" stroke-width="0.9"/>
<line x1="456.50" y1="293.60" x2="456.50" y2="294.20" stroke="#000" stroke-width="1.0"/>
<line x1="453.90" y1="293.60" x2="459.10" y2="293.60" stroke="#000" stroke-width="1.0"/>
<rect x="451.00" y="294.20" width="11.00" height="1.80" fill="#000" stroke="none" stroke-width="0"/>
<line x1="456.50" y1="296.00" x2="456.50" y2="298.00" stroke="#000" stroke-width="0.9"/>
<line x1="472.00" y1="289.60" x2="472.00" y2="292.40" stroke="#000" stroke-width="1.0"/>
<line x1="469.40" y1="289.60" x2="474.60" y2="289.60" stroke="#000" stroke-width="1.0"/>
<rect x="466.30" y="292.40" width="11.40" height="3.60" fill="#000" stroke="none" stroke-width="0"/>
<line x1="472.00" y1="296.00" x2="472.00" y2="298.00" stroke="#000" stroke-width="0.9"/>
<line x1="487.05" y1="287.50" x2="487.05" y2="291.60" stroke="#000" stroke-width="1.0"/>
<line x1="484.45" y1="287.50" x2="489.65" y2="287.50" stroke="#000" stroke-width="1.0"/>
<rect x="481.20" y="291.60" width="11.70" height="4.40" fill="#000" stroke="none" stroke-width="0"/>
<line x1="487.05" y1="296.00" x2="487.05" y2="298.00" stroke="#000" stroke-width="0.9"/>
<rect x="408.70" y="301.90" width="2.80" height="1.00" fill="#333" stroke="none" stroke-width="0"/>
<rect x="455.40" y="301.90" width="2.80" height="1.00" fill="#333" stroke="none" stroke-width="0"/>
<text transform="translate(419.50,304.80) scale(1,1.1)" font-size="7.9" text-anchor="start" fill="#1a1a1a" stroke="#1a1a1a" stroke-width="0.15" >WT</text>
<text transform="translate(466.20,304.80) scale(1,1.1)" font-size="7.9" text-anchor="start" fill="#1a1a1a" stroke="#1a1a1a" stroke-width="0.15" >WT</text>
<text transform="translate(433.70,304.80) scale(1,1.1)" font-size="7.9" text-anchor="start" fill="#1a1a1a" stroke="#1a1a1a" stroke-width="0.15" >Fas</text>
<text x="447.0" y="301.7" font-size="5.0" fill="#555">-/-</text>
<text transform="translate(480.60,304.80) scale(1,1.1)" font-size="7.9" text-anchor="start" fill="#1a1a1a" stroke="#1a1a1a" stroke-width="0.15" >Fas</text>
<text x="493.9" y="301.7" font-size="5.0" fill="#555">-/-</text>
<text transform="translate(501.10,304.80) scale(1,1.1)" font-size="7.9" text-anchor="start" fill="#1a1a1a" stroke="#1a1a1a" stroke-width="0.15" >DCs</text>
<line x1="403.50" y1="308.30" x2="499.00" y2="308.30" stroke="#333" stroke-width="1.1"/>
<text transform="translate(423.00,318.20) scale(1,1.1)" font-size="7.9" text-anchor="start" fill="#1a1a1a" stroke="#1a1a1a" stroke-width="0.15" >WT</text>
<text transform="translate(470.30,318.80) scale(1,1.1)" font-size="7.9" text-anchor="start" fill="#1a1a1a" stroke="#1a1a1a" stroke-width="0.15" >Perf</text>
<text x="484.9" y="315.7" font-size="5.0" fill="#555">-/-</text>
<text transform="translate(501.10,319.20) scale(1,1.1)" font-size="7.9" text-anchor="start" fill="#1a1a1a" stroke="#1a1a1a" stroke-width="0.15" >NK</text>
<text transform="translate(389.9,311.0) rotate(-90)" font-size="7.85" fill="#1a1a1a" stroke="#1a1a1a" stroke-width="0.15">% IFN-γ-producing cells</text>
</svg>
</body></html>
